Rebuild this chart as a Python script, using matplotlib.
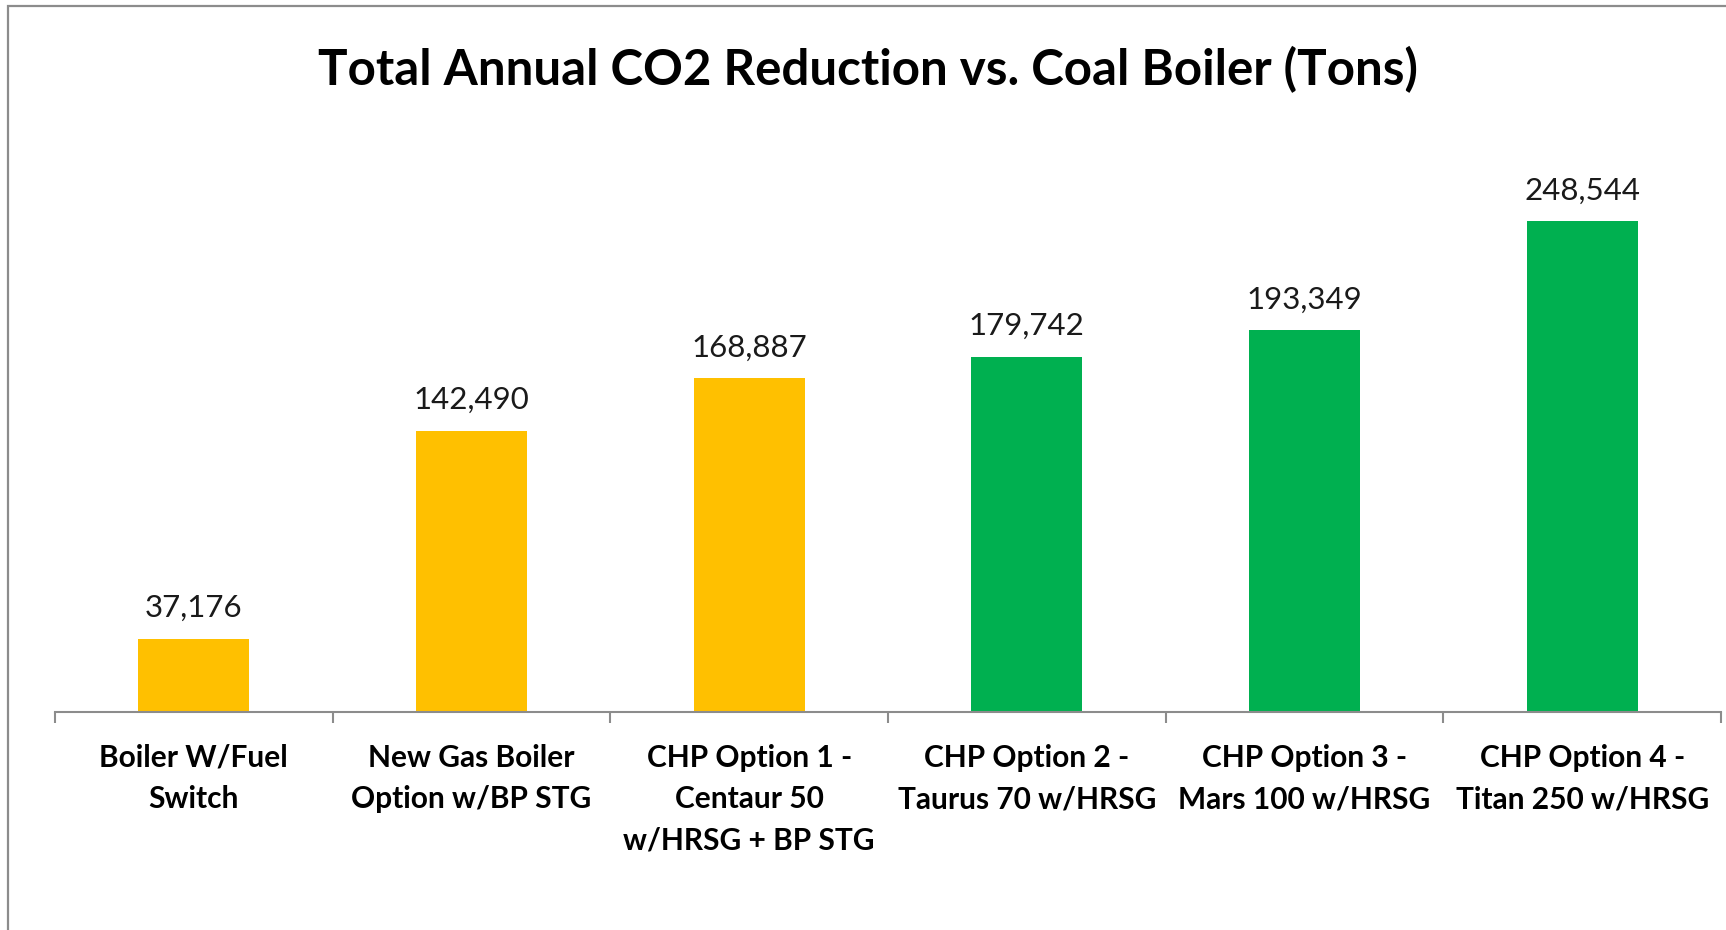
import matplotlib
matplotlib.use("Agg")
import matplotlib.pyplot as plt
from matplotlib.patches import Rectangle
import numpy as np

# datos
categorias = [
    "Boiler W/Fuel\nSwitch",
    "New Gas Boiler\nOption w/BP STG",
    "CHP Option 1 -\nCentaur 50\nw/HRSG + BP STG",
    "CHP Option 2 -\nTaurus 70 w/HRSG",
    "CHP Option 3 -\nMars 100 w/HRSG",
    "CHP Option 4 -\nTitan 250 w/HRSG",
]
reduccion = [37176, 142490, 168887, 179742, 193349, 248544]
colores = ["#FFC000", "#FFC000", "#FFC000", "#00B050", "#00B050", "#00B050"]

plt.rcParams["font.family"] = ["Lato", "DejaVu Sans"]

W, H = 1726, 930
fig = plt.figure(figsize=(W / 100, H / 100), dpi=100)

# marco gris del area de la grafica
fig.patches.append(Rectangle((8 / W, -0.05), 1.2, 1 - 6 / H + 0.05,
                             transform=fig.transFigure, fill=False,
                             edgecolor="#8c8c8c", linewidth=1.6))

ax = fig.add_axes([55 / W, 1 - 712 / H, (1721 - 55) / W, (712 - 150) / H])

x = np.arange(len(categorias))
ax.bar(x, reduccion, width=0.4, color=colores)

for xi, v in zip(x, reduccion):
    ax.annotate(f"{v:,}", (xi, v), xytext=(0, 12), textcoords="offset points",
                ha="center", va="bottom", fontsize=22.5, color="#1a1a1a")

ax.set_xlim(-0.5, 5.5)
ax.set_ylim(0, (712 - 150) * 248544 / (712 - 221))

for s in ["top", "right", "left"]:
    ax.spines[s].set_visible(False)
ax.spines["bottom"].set_color("#8c8c8c")
ax.spines["bottom"].set_linewidth(1.5)
ax.set_yticks([])

ax.set_xticks(x)
ax.set_xticklabels(categorias, fontsize=21.5, fontweight="bold", linespacing=1.58)
ax.tick_params(axis="x", which="major", length=0, pad=23)
ax.set_xticks(np.arange(-0.5, 6, 1), minor=True)
ax.tick_params(axis="x", which="minor", length=8, width=1.5, color="#8c8c8c")

fig.text(868 / W, 1 - 70 / H, "Total Annual CO2 Reduction vs. Coal Boiler (Tons)",
         ha="center", va="center", fontsize=35.5, fontweight="bold")

fig.savefig("out.png", dpi=100, facecolor="white")
